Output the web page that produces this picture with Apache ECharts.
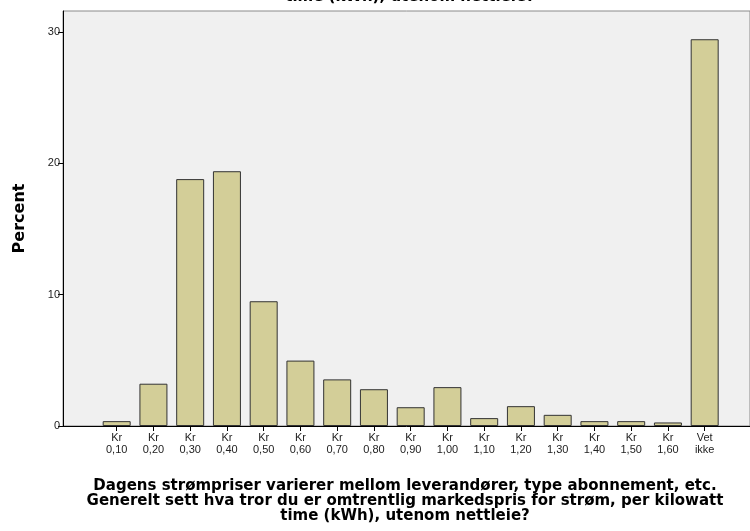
<!DOCTYPE html>
<html>
<head>
<meta charset="utf-8">
<script src="https://cdn.jsdelivr.net/npm/echarts@6/dist/echarts.min.js"></script>
<style>html,body{margin:0;padding:0;background:#fff;}#c{width:750px;height:531px;}</style>
</head>
<body>
<div id="c"></div>
<script>
const categories = ['Kr\n0,10','Kr\n0,20','Kr\n0,30','Kr\n0,40','Kr\n0,50','Kr\n0,60','Kr\n0,70','Kr\n0,80','Kr\n0,90','Kr\n1,00','Kr\n1,10','Kr\n1,20','Kr\n1,30','Kr\n1,40','Kr\n1,50','Kr\n1,60','Vet\nikke'];
const percents = [0.37, 3.22, 18.8, 19.4, 9.5, 4.98, 3.55, 2.8, 1.43, 2.96, 0.6, 1.51, 0.85, 0.37, 0.37, 0.27, 29.45];
const yTicks = [0, 10, 20, 30];
const titleText = 'Dagens strømpriser varierer mellom leverandører, type abonnement, etc.\nGenerelt sett hva tror du er omtrentlig markedspris for strøm, per kilowatt\ntime (kWh), utenom nettleie?';
const xAxisTitle = 'Dagens strømpriser varierer mellom leverandører, type abonnement, etc.\nGenerelt sett hva tror du er omtrentlig markedspris for strøm, per kilowatt\ntime (kWh), utenom nettleie?';

const chart = echarts.init(document.getElementById('c'), null, {renderer:'canvas'});
const yMax = 31.6;
const option = {
  animation: false,
  backgroundColor: '#ffffff',
  title: [{
    text: titleText,
    left: 405, textAlign: 'center',
    top: -45,
    textStyle: {fontFamily: 'DejaVu Sans', fontWeight: 'bold', fontSize: 15, lineHeight: 15, color: '#000'}
  }],
  graphic: [{
    type: 'text', x: 405, y: 479,
    style: {text: xAxisTitle, fontFamily: 'DejaVu Sans', fontWeight: 'bold', fontSize: 15, lineHeight: 15, fill: '#000', align: 'center', textAlign: 'center', verticalAlign: 'top'}
  }],
  grid: [
    {left: 63, top: 11, right: -20, bottom: 105, show: true, backgroundColor: '#f0f0f0', borderColor: '#8a8a8a', borderWidth: 1, containLabel: false},
    {left: 98.3, top: 11, width: 624.75, bottom: 105, containLabel: false}
  ],
  xAxis: [
    {gridIndex: 0, type: 'value', min: 0, max: 1, axisLine: {show: true, onZero: false, lineStyle: {color: '#000', width: 1}}, axisTick: {show: false}, axisLabel: {show: false}, splitLine: {show: false}},
    {gridIndex: 1, type: 'category', data: categories, boundaryGap: true,
     axisLine: {show: false}, axisTick: {show: true, alignWithLabel: true, length: 5, lineStyle: {color: '#000'}},
     axisLabel: {fontFamily: 'Liberation Sans, Arial', fontSize: 11, color: '#222', lineHeight: 12, margin: 6, interval: 0}}
  ],
  yAxis: [
    {gridIndex: 0, type: 'value', min: 0, max: yMax, interval: 10,
     axisLine: {show: true, lineStyle: {color: '#000'}},
     axisTick: {show: true, length: 5, customValues: yTicks, lineStyle: {color: '#000'}},
     axisLabel: {fontFamily: 'Liberation Sans, Arial', fontSize: 11, color: '#222', margin: 3, customValues: yTicks,
       formatter: v => (yTicks.indexOf(v) >= 0 ? String(v) : '')},
     splitLine: {show: false},
     name: 'Percent', nameLocation: 'middle', nameGap: 35, nameRotate: 90,
     nameTextStyle: {fontFamily: 'DejaVu Sans', fontWeight: 'bold', fontSize: 16, color: '#000'}},
    {gridIndex: 1, type: 'value', min: 0, max: yMax, show: false}
  ],
  series: [{
    type: 'bar', xAxisIndex: 1, yAxisIndex: 1, data: percents, barWidth: 28,
    itemStyle: {color: '#d3ce98', borderColor: '#333', borderWidth: 1}
  }]
};
chart.setOption(option);
</script>
</body>
</html>
